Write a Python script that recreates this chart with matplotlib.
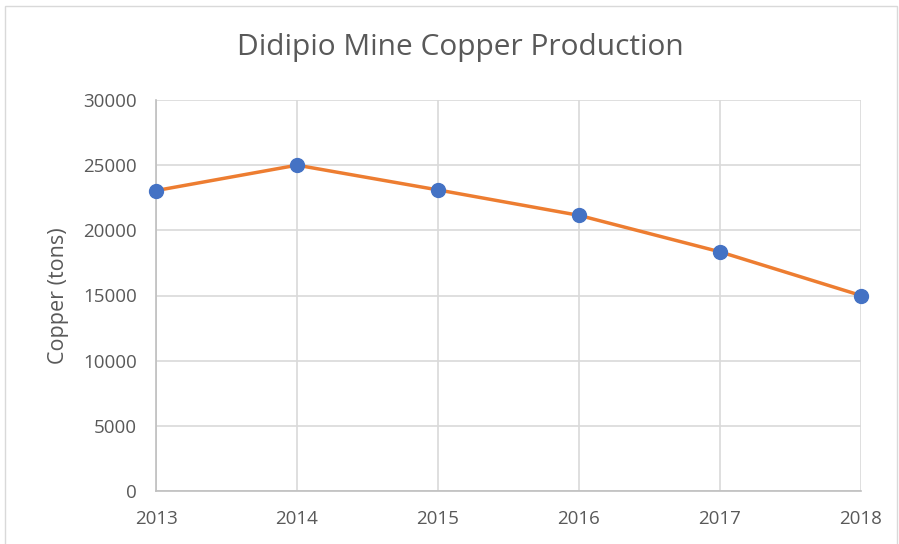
import matplotlib
matplotlib.use("Agg")
import matplotlib.pyplot as plt
from matplotlib.patches import Rectangle

years = ["2013", "2014", "2015", "2016", "2017", "2018"]
copper = [23050, 25000, 23100, 21150, 18350, 15000]
yticks = [0, 5000, 10000, 15000, 20000, 25000, 30000]

plt.rcParams["font.family"] = ["Open Sans", "DejaVu Sans"]
TXT = "#595959"

fig = plt.figure(figsize=(8.99, 5.44), dpi=100)
# chart border (Excel style)
fig.patches.append(Rectangle((5 / 899, -0.01), 892 / 899, 1 - 6 / 544 + 0.01, transform=fig.transFigure,
                             fill=False, edgecolor="#D9D9D9", lw=1.0))
ax = fig.add_axes([156 / 899, 1 - 491 / 544, (861 - 156) / 899, (491 - 100) / 544])

x = list(range(len(years)))
ax.plot(x, copper, color="#ED7D31", lw=2.5, zorder=3, clip_on=False)
ax.plot(x, copper, "o", color="#4472C4", ms=10, zorder=4, clip_on=False)

ax.set_xlim(0, len(years) - 1)
ax.set_ylim(0, 30000)
ax.set_yticks(yticks)
ax.set_yticklabels([str(v) for v in yticks])
ax.set_xticks(x)
ax.set_xticklabels(years)
ax.grid(True, color="#D9D9D9", lw=1.2)
ax.set_axisbelow(True)
for s in ["top", "right"]:
    ax.spines[s].set_visible(False)
for s in ["bottom", "left"]:
    ax.spines[s].set_color("#BFBFBF")
    ax.spines[s].set_linewidth(1.2)
ax.tick_params(length=0, labelsize=13.5, colors=TXT)
ax.tick_params(axis="x", pad=14)
ax.tick_params(axis="y", pad=14)
ax.set_ylabel("Copper (tons)", fontsize=15.5, color=TXT, labelpad=10)
fig.text(460 / 899, 1 - 48 / 544, "Didipio Mine Copper Production", ha="center", va="center",
         fontsize=21.5, color=TXT)

fig.savefig("out.png", dpi=100)
